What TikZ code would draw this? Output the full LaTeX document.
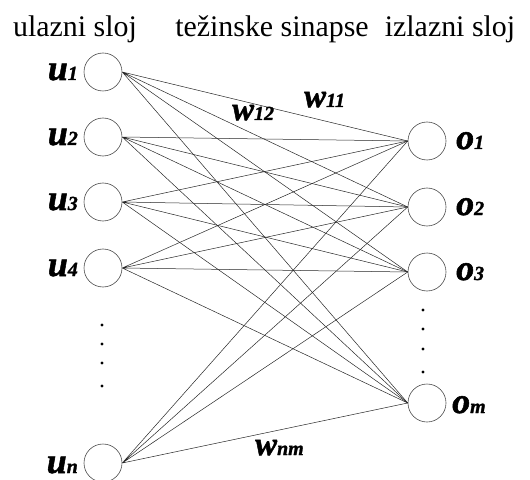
\documentclass[tikz,border=0pt]{standalone}
\usepackage{fontspec}
\setmainfont{Liberation Serif}
\newfontfamily\lblfont{Liberation Serif}[BoldItalicFeatures={FakeBold=1.5}]
\newcommand{\nlab}[2]{\lblfont\bfseries\itshape #1{\fontsize{20}{20}\selectfont #2}}
\tikzset{
    neuron/.style={circle, draw=black!70, line width=0.6bp, minimum size=38bp, inner sep=0pt},
    lab/.style={font=\fontsize{36}{40}\selectfont, inner sep=0pt, anchor=base east},
    olab/.style={font=\fontsize{36}{40}\selectfont, inner sep=0pt, anchor=base west},
    wlab/.style={font=\fontsize{33}{36}\selectfont, inner sep=0pt, anchor=base west},
    head/.style={font=\fontsize{30}{36}\selectfont, inner sep=0pt, anchor=base},
    syn/.style={black!85, line width=0.5bp}
}
\begin{document}
\begin{tikzpicture}[x=1bp, y=-1bp]
    \useasboundingbox (0,0) rectangle (530,480);
    \node[head] (hin) at (75,37) {ulazni sloj};
    \node[head] (hsyn) at (272,37) {težinske sinapse};
    \node[head] (hout) at (450,37) {izlazni sloj};
    % ulazni sloj
    \node[neuron] (u1) at (103,72) {};
    \node[neuron] (u2) at (103,137) {};
    \node[neuron] (u3) at (103,202) {};
    \node[neuron] (u4) at (103,268) {};
    \node[neuron] (un) at (103,463) {};
    \node[lab] (lu1) at (78,80) {\nlab{u}{1}};
    \node[lab] (lu2) at (78,145) {\nlab{u}{2}};
    \node[lab] (lu3) at (78,210) {\nlab{u}{3}};
    \node[lab] (lu4) at (78,276) {\nlab{u}{4}};
    \node[lab] (lun) at (78,473) {\nlab{u}{n}};
    % izlazni sloj
    \node[neuron] (o1) at (427,141) {};
    \node[neuron] (o2) at (427,207) {};
    \node[neuron] (o3) at (427,272) {};
    \node[neuron] (om) at (427,403) {};
    \node[olab] (lo1) at (456,149) {\nlab{o}{1}};
    \node[olab] (lo2) at (456,215) {\nlab{o}{2}};
    \node[olab] (lo3) at (456,280) {\nlab{o}{3}};
    \node[olab] (lom) at (452,413) {\nlab{o}{m}};
    % tocke
    \fill (102,325) circle (1.6bp); \fill (102,344) circle (1.6bp);
    \fill (102,363) circle (1.6bp); \fill (102,386) circle (1.6bp);
    \fill (423,310) circle (1.6bp); \fill (423,329) circle (1.6bp);
    \fill (423,349) circle (1.6bp); \fill (423,372) circle (1.6bp);
    % sinapse
    \draw[syn] (u1.east) -- (o1.west) (u1.east) -- (o2.west) (u1.east) -- (o3.west) (u1.east) -- (om.west);
    \draw[syn] (u2.east) -- (o1.west) (u2.east) -- (o2.west) (u2.east) -- (o3.west) (u2.east) -- (om.west);
    \draw[syn] (u3.east) -- (o1.west) (u3.east) -- (o2.west) (u3.east) -- (o3.west) (u3.east) -- (om.west);
    \draw[syn] (u4.east) -- (o1.west) (u4.east) -- (o2.west) (u4.east) -- (o3.west) (u4.east) -- (om.west);
    \draw[syn] (un.east) -- (o1.west) (un.east) -- (o2.west) (un.east) -- (o3.west) (un.east) -- (om.west);
    \node[wlab] (w11) at (304,107) {\nlab{w}{11}};
    \node[wlab] (w12) at (232,120) {\nlab{w}{12}};
    \node[wlab] (wnm) at (255,455) {\nlab{w}{nm}};
\end{tikzpicture}
\end{document}
